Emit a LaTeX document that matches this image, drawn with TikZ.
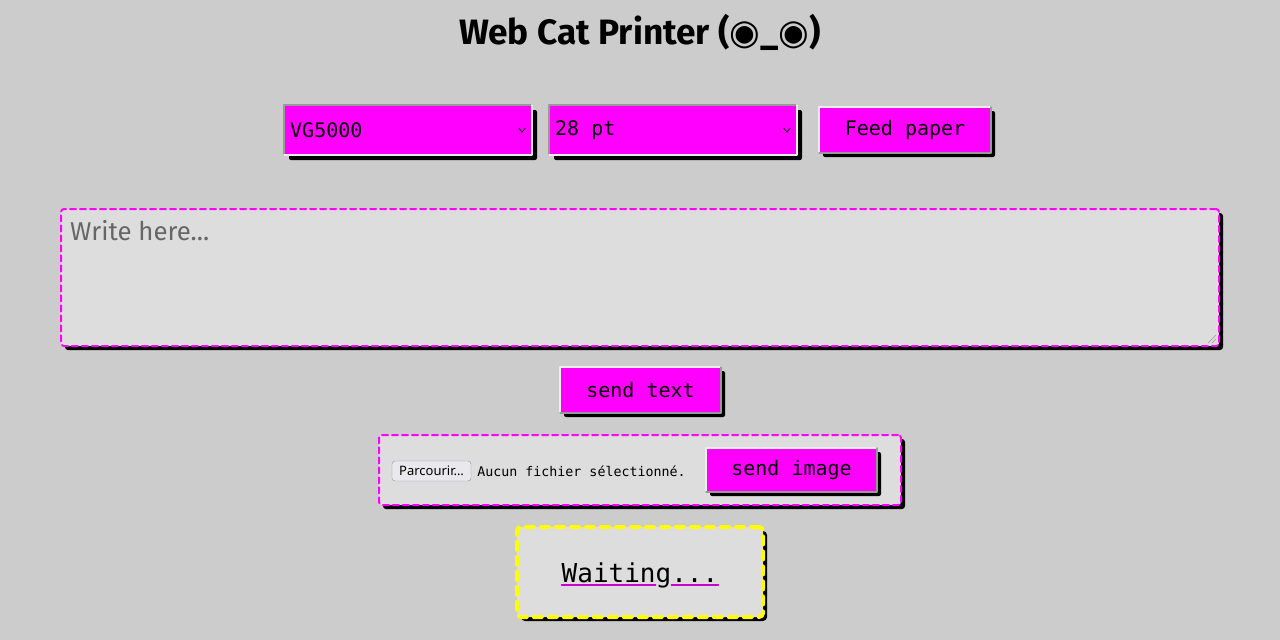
\documentclass[tikz,border=0pt]{standalone}
\usepackage{fontspec}
\setmonofont{DejaVu Sans Mono}
\newfontfamily\titlefont{Fira Sans}
\newfontfamily\symfont{DejaVu Sans}
\newfontfamily\uifont{Noto Sans}
\usetikzlibrary{positioning,shadows,calc}
\definecolor{bgcol}{HTML}{CCCCCC}
\definecolor{boxcol}{HTML}{DDDDDD}
\definecolor{mag}{HTML}{FF00FF}
\definecolor{yel}{HTML}{FFFF00}
\definecolor{phgray}{HTML}{666666}
\definecolor{hiedge}{HTML}{EEEEEE}
\definecolor{loedge}{HTML}{999999}
\definecolor{btnface}{HTML}{E9E9ED}
\definecolor{btnedge}{HTML}{8F8F9D}
\definecolor{ulcol}{HTML}{CC00CC}
\newcommand{\monotext}{\fontsize{20}{24}\selectfont\ttfamily}
\begin{document}
\begin{tikzpicture}[x=1pt, y=-1pt, line join=round, line cap=round,
	selectbox/.style={fill=mag, minimum width=248, minimum height=50, rounded corners=2, outer sep=0,
		drop shadow={fill=black, opacity=1, shadow xshift=5pt, shadow yshift=-5pt}},
	pushbtn/.style={fill=mag, rounded corners=2, outer sep=0, font=\monotext,
		drop shadow={fill=black, opacity=1, shadow xshift=4pt, shadow yshift=-4pt}},
	dashbox/.style={fill=boxcol, draw=mag, line width=2, dash pattern=on 6pt off 4pt, rounded corners=3, outer sep=0,
		drop shadow={fill=black, opacity=1, shadow xshift=4pt, shadow yshift=-4pt}},
	hiline/.style={draw=hiedge, line width=2},
	loline/.style={draw=loedge, line width=2}]
	\useasboundingbox (0,0) rectangle (1280,640);
	\fill[bgcol] (0,0) rectangle (1280,640);
	% title
	\node[anchor=base, inner sep=0] (title) at (640,44)
		{\resizebox{362pt}{!}{\fontsize{34}{40}\selectfont\titlefont\bfseries Web Cat Printer ({\symfont◉}\_{\symfont◉})}};
	% top row
	\node[selectbox] (font) at (408,130) {};
	\node[selectbox] (size) at (673,130) {};
	\node[pushbtn, minimum width=172, minimum height=46] (feed) at (905,130) {Feed paper};
	\foreach \s in {font,size} {
		\draw[loline] (\s.south west) -- (\s.north west) -- (\s.north east);
		\draw[hiline] (\s.north east) -- (\s.south east) -- (\s.south west);
		\coordinate (chev) at ([xshift=-10pt]\s.east);
		\draw[thick] ([shift={(-3,-1.5)}]chev) -- ([shift={(0,2)}]chev) -- ([shift={(3,-1.5)}]chev);
	}
	\draw[hiline] (feed.south west) -- (feed.north west) -- (feed.north east);
	\draw[loline] (feed.north east) -- (feed.south east) -- (feed.south west);
	\node[right=6pt of font.west, inner sep=0, font=\monotext] (fonttxt) {VG5000};
	\node[right=6pt of size.west, inner sep=0, font=\monotext] (sizetxt) {28 pt};
	% text area
	\node[dashbox, minimum width=1158, minimum height=137] (area) at (640,277.5) {};
	\node[anchor=base west, inner sep=0, text=phgray] (ph) at (70,240)
		{\resizebox{139pt}{!}{\fontsize{26}{30}\selectfont\titlefont Write here...}};
	\draw[loedge] ([shift={(-11,-3)}]area.south east) -- ([shift={(-3,-11)}]area.south east)
		([shift={(-7,-3)}]area.south east) -- ([shift={(-3,-7)}]area.south east);
	% send text
	\node[pushbtn, minimum width=161, minimum height=46] (sendtxt) at (640.5,390) {send text};
	\draw[hiline] (sendtxt.south west) -- (sendtxt.north west) -- (sendtxt.north east);
	\draw[loline] (sendtxt.north east) -- (sendtxt.south east) -- (sendtxt.south west);
	% image upload
	\node[dashbox, minimum width=522, minimum height=70] (filebox) at (640,470) {};
	\node[fill=btnface, draw=btnedge, rounded corners=3, minimum width=79, minimum height=20, inner sep=0,
		font=\fontsize{13}{15}\selectfont\uifont] (parc) at (431.5,471) {Parcourir…};
	\node[right=6pt of parc.east, anchor=west, inner sep=0, font=\fontsize{13.3}{15}\selectfont\ttfamily] (nofile) {Aucun fichier sélectionné.};
	\node[pushbtn, minimum width=171, minimum height=44] (sendimg) at (791.5,470) {send image};
	\draw[hiline] (sendimg.south west) -- (sendimg.north west) -- (sendimg.north east);
	\draw[loline] (sendimg.north east) -- (sendimg.south east) -- (sendimg.south west);
	% status
	\node[fill=boxcol, draw=yel, line width=4, dash pattern=on 8pt off 7pt, rounded corners=4, outer sep=0,
		minimum width=246, minimum height=90,
		drop shadow={fill=black, opacity=1, shadow xshift=4pt, shadow yshift=-4pt}] (status) at (640,572) {};
	\node[anchor=base, inner sep=0, font=\fontsize{26}{30}\selectfont\ttfamily] (wait) at (640,582) {Waiting...};
	\coordinate (ul) at ([yshift=-3pt]wait.base west);
	\coordinate (ur) at ([yshift=-3pt]wait.base east);
	\draw[ulcol, line width=1.2] (ul) -- ($(ul)!0.6!(ur)$) ($(ul)!0.7!(ur)$) -- (ur);
\end{tikzpicture}
\end{document}
